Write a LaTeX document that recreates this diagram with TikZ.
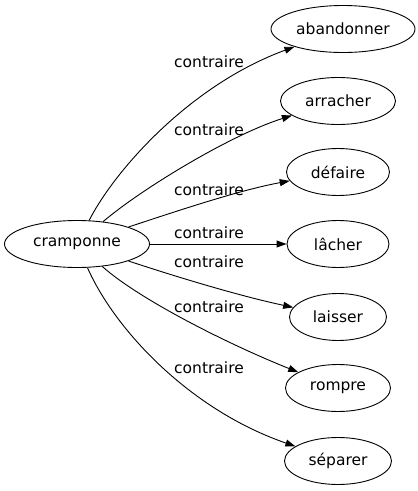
\documentclass[tikz,border=0pt]{standalone}
\usepackage{fontspec}
\setmainfont{DejaVu Sans}
\usepackage{tikz}
\usetikzlibrary{arrows.meta, shapes.geometric}

\begin{document}
\begin{tikzpicture}[
            x = 1pt, y = -1pt,
            every node/.style = {
                ellipse,
                draw,
                line width = 0.9pt,
                inner sep = 0pt,
                minimum height = 47pt,
                font = \fontsize{15.5}{18}\selectfont
            },
            rel/.style = {
                draw = none,
                rectangle,
                minimum height = 0pt,
                inner sep = 1pt
            },
            edge/.style = {
                line width = 0.9pt,
                -{Triangle[length = 10pt, width = 7pt]}
            }
        ]
            \useasboundingbox (0,0) rectangle (418,491);

            % source and targets
            \node[minimum width = 145pt] (cramponne) at (77,244) {cramponne};
            \node[minimum width = 144pt] (abandonner) at (343,29) {abandonner};
            \node[minimum width = 115pt] (arracher) at (338,101) {arracher};
            \node[minimum width = 103pt] (defaire) at (338,172) {défaire};
            \node[minimum width = 102pt] (lacher) at (338,244) {lâcher};
            \node[minimum width = 97pt] (laisser) at (338,317) {laisser};
            \node[minimum width = 105pt] (rompre) at (338,388) {rompre};
            \node[minimum width = 107pt] (separer) at (338,461) {séparer};

            % edges
            \draw[edge] (cramponne) .. controls (115,170) and (190,85) .. (abandonner);
            \draw[edge] (cramponne) .. controls (140,190) and (230,135) .. (arracher);
            \draw[edge] (cramponne) .. controls (180,210) and (240,190) .. (defaire);
            \draw[edge] (cramponne) -- (lacher);
            \draw[edge] (cramponne) .. controls (180,278) and (240,296) .. (laisser);
            \draw[edge] (cramponne) .. controls (140,300) and (230,345) .. (rompre);
            \draw[edge] (cramponne) .. controls (115,330) and (190,410) .. (separer);

            % labels
            \node[rel] (lab1) at (209,62) {contraire};
            \node[rel] (lab2) at (209,130) {contraire};
            \node[rel] (lab3) at (209,190) {contraire};
            \node[rel] (lab4) at (209,233) {contraire};
            \node[rel] (lab5) at (209,262) {contraire};
            \node[rel] (lab6) at (209,307) {contraire};
            \node[rel] (lab7) at (209,368) {contraire};
        \end{tikzpicture}
\end{document}
